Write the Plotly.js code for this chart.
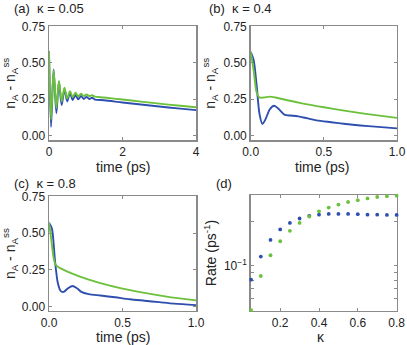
<!DOCTYPE html>
<html>
<head>
<meta charset="utf-8">
<script src="https://cdn.plot.ly/plotly-3.0.1.min.js"></script>
<style>
  html, body { margin: 0; padding: 0; background: #fff; }
  #graph { width: 407px; height: 345px; }
</style>
</head>
<body>
<div id="graph"></div>
<script>
// (a) kappa = 0.05
var tA = [0, 0.055, 0.125, 0.2, 0.27, 0.345, 0.42, 0.495, 0.57, 0.645, 0.72, 0.795, 0.87, 0.945, 1.02, 1.095, 1.17, 1.25, 1.5, 2, 2.5, 3, 3.5, 4];
var blueA = [0.58, 0.06, 0.455, 0.155, 0.37, 0.21, 0.32, 0.235, 0.295, 0.245, 0.28, 0.25, 0.272, 0.252, 0.266, 0.252, 0.26, 0.248, 0.243, 0.228, 0.214, 0.2, 0.187, 0.175];
var greenA = [0.58, 0.11, 0.45, 0.19, 0.375, 0.235, 0.33, 0.255, 0.305, 0.265, 0.295, 0.27, 0.288, 0.272, 0.283, 0.272, 0.278, 0.268, 0.262, 0.248, 0.234, 0.22, 0.207, 0.195];

// (b) kappa = 0.4
var tBblue = [0, 0.02, 0.04, 0.06, 0.08, 0.1, 0.13, 0.16, 0.19, 0.23, 0.27, 0.31, 0.36, 0.45, 0.55, 0.65, 0.75, 0.85, 1.0];
var blueB = [0.575, 0.52, 0.35, 0.15, 0.08, 0.11, 0.18, 0.205, 0.185, 0.145, 0.138, 0.135, 0.125, 0.105, 0.092, 0.08, 0.07, 0.062, 0.05];
var tBgreen = [0, 0.02, 0.04, 0.06, 0.09, 0.13, 0.17, 0.25, 0.35, 0.5, 0.65, 0.8, 1.0];
var greenB = [0.575, 0.45, 0.3, 0.262, 0.262, 0.268, 0.262, 0.243, 0.222, 0.195, 0.17, 0.148, 0.122];

// (c) kappa = 0.8
var tCblue = [0, 0.02, 0.04, 0.06, 0.08, 0.1, 0.13, 0.16, 0.19, 0.22, 0.27, 0.35, 0.45, 0.55, 0.65, 0.75, 0.85, 1.0];
var blueC = [0.57, 0.53, 0.32, 0.16, 0.105, 0.1, 0.125, 0.14, 0.125, 0.1, 0.085, 0.075, 0.063, 0.05, 0.04, 0.03, 0.02, 0.01];
var tCgreen = [0, 0.01, 0.02, 0.03, 0.045, 0.07, 0.1, 0.15, 0.25, 0.35, 0.5, 0.65, 0.8, 1.0];
var greenC = [0.57, 0.5, 0.42, 0.34, 0.285, 0.265, 0.25, 0.228, 0.19, 0.16, 0.122, 0.093, 0.068, 0.042];

// (d) rates vs kappa
var kappa = [0.05, 0.1, 0.15, 0.2, 0.25, 0.3, 0.35, 0.4, 0.45, 0.5, 0.55, 0.6, 0.65, 0.7, 0.75, 0.8];
var rateBlue = [0.0805, 0.1156, 0.15, 0.177, 0.196, 0.21, 0.219, 0.223, 0.2255, 0.2255, 0.2255, 0.2245, 0.223, 0.223, 0.222, 0.222];
var rateGreen = [0.05, 0.0853, 0.118, 0.147, 0.173, 0.196, 0.2165, 0.235, 0.249, 0.261, 0.272, 0.28, 0.2875, 0.294, 0.298, 0.3];

var yTicks = [0, 0.25, 0.5, 0.75];
var logTicks = [0.05, 0.06, 0.07, 0.08, 0.09, 0.1, 0.2, 0.3];
var logText = ["", "", "", "", "", "10<sup>\u22121</sup>", "", ""];

var blue = "#2f4fae";
var green = "#6cc13c";
var fam = "Liberation Sans, Arial, sans-serif";
var font = { family: fam, size: 12, color: "#222" };
var tfont = { family: fam, size: 14, color: "#222" };

function line(x, y, col, xa, ya) {
    return { x: x, y: y, xaxis: xa, yaxis: ya, type: "scatter", mode: "lines",
             line: { color: col, width: 1.9, shape: "spline", smoothing: 0.8 }, hoverinfo: "none" };
}

var traces = [
    line(tA, blueA, blue, "x", "y"),
    line(tA, greenA, green, "x", "y"),
    line(tBblue, blueB, blue, "x2", "y2"),
    line(tBgreen, greenB, green, "x2", "y2"),
    line(tCblue, blueC, blue, "x3", "y3"),
    line(tCgreen, greenC, green, "x3", "y3"),
    { x: kappa, y: rateBlue, xaxis: "x4", yaxis: "y4", type: "scatter", mode: "markers",
      marker: { color: blue, size: 3.8 }, cliponaxis: false },
    { x: kappa, y: rateGreen, xaxis: "x4", yaxis: "y4", type: "scatter", mode: "markers",
      marker: { color: green, size: 3.8 }, cliponaxis: false }
];

var axisStyle = {
    showgrid: false, zeroline: false, showline: true, mirror: "allticks",
    linecolor: "#8a8a8a", linewidth: 1.5, ticks: "inside", ticklen: 3, tickcolor: "#8a8a8a",
    tickfont: font, layer: "below traces"
};

function xax(dom, range, dtick, fmt, anchor) {
    return Object.assign({ domain: dom, range: range, dtick: dtick, tick0: 0, tickformat: fmt, anchor: anchor }, axisStyle);
}
function yax(dom, anchor) {
    return Object.assign({ domain: dom, range: [-0.03, 0.75], tickvals: yTicks, tickformat: ".2f", anchor: anchor,
             title: { text: "n<sub>A</sub> - n<sub>A</sub><sup>ss</sup>", font: tfont, standoff: 4 } }, axisStyle);
}

var colL = [0.1204, 0.4816];
var colR = [0.616, 0.9754];
var rowT = [0.5942, 0.9232];
var rowB = [0.0986, 0.431];

// panel labels and x-axis titles, placed in pixels
var labels = [
    { text: "(a)  \u03ba = 0.05", px: 12, py: 8, anchor: "left", size: 13 },
    { text: "(b)  \u03ba = 0.4", px: 207, py: 8, anchor: "left", size: 13 },
    { text: "(c)  \u03ba = 0.8", px: 12, py: 183, anchor: "left", size: 13 },
    { text: "(d)", px: 214, py: 183, anchor: "left", size: 13 },
    { text: "time (ps)", px: 122.5, py: 166.5, anchor: "center", size: 14 },
    { text: "time (ps)", px: 322, py: 166.5, anchor: "center", size: 14 },
    { text: "time (ps)", px: 122.5, py: 337, anchor: "center", size: 14 },
    { text: "\u03ba", px: 321, py: 337, anchor: "center", size: 14 }
];

var layout = {
    width: 407, height: 345,
    margin: { l: 0, r: 0, t: 0, b: 0 },
    paper_bgcolor: "#fff", plot_bgcolor: "#fff",
    showlegend: false, font: font,
    xaxis: xax(colL, [0, 4], 2, "d", "y"),
    yaxis: yax(rowT, "x"),
    xaxis2: xax(colR, [0, 1], 0.5, ".1f", "y2"),
    yaxis2: yax(rowT, "x2"),
    xaxis3: xax(colL, [0, 1], 0.5, ".1f", "y3"),
    yaxis3: yax(rowB, "x3"),
    xaxis4: xax(colR, [0.048, 0.802], 0.2, ".1f", "y4"),
    yaxis4: Object.assign({ domain: [0.0994, 0.4339], type: "log", range: [Math.log10(0.0495), Math.log10(0.302)], anchor: "x4",
              tickvals: logTicks, ticktext: logText,
              title: { text: "Rate (ps<sup>-1</sup>)", font: tfont, standoff: 4 } }, axisStyle),
    annotations: labels.map(function (l) {
        return { text: l.text, xref: "paper", yref: "paper", x: l.px / 407, y: 1 - l.py / 345,
                 xanchor: l.anchor, yanchor: "middle", showarrow: false,
                 font: { family: fam, size: l.size, color: "#222" } };
    })
};

Plotly.newPlot("graph", traces, layout, { staticPlot: true });
</script>
</body>
</html>
